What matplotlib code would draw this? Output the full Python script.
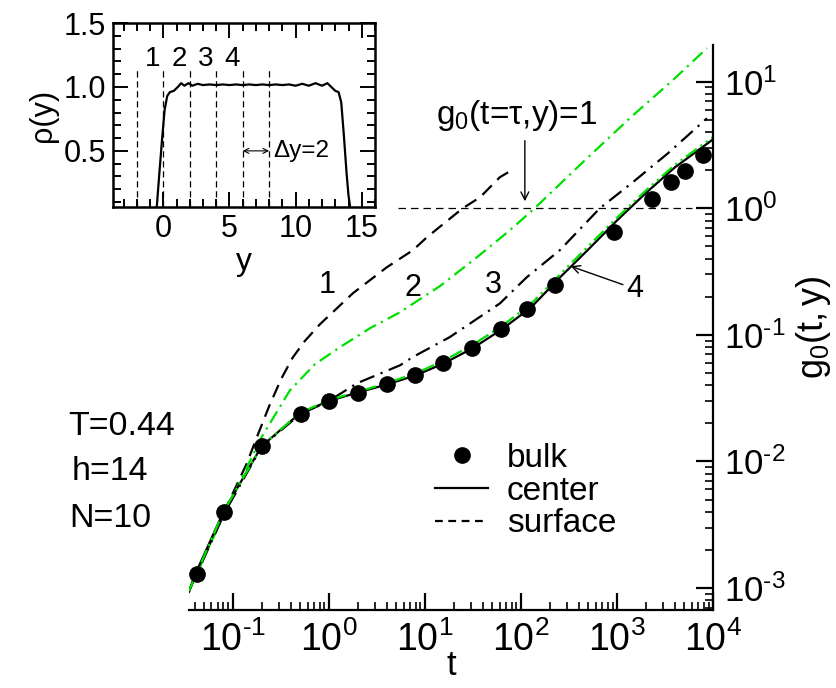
import matplotlib
matplotlib.use("Agg")
import matplotlib.pyplot as plt
from matplotlib.lines import Line2D
from matplotlib.ticker import LogLocator, NullFormatter, MultipleLocator, FormatStrFormatter, FuncFormatter
import numpy as np

plt.rcParams['font.family'] = ['Liberation Sans', 'DejaVu Sans']
plt.rcParams['mathtext.fontset'] = 'custom'
plt.rcParams['mathtext.rm'] = 'Liberation Sans'
plt.rcParams['mathtext.it'] = 'Liberation Sans:italic'
plt.rcParams['mathtext.bf'] = 'Liberation Sans:bold'
plt.rcParams['mathtext.default'] = 'regular'

GREEN = '#00e000'

# bulk simulation points
bulk_t = [0.042, 0.081, 0.20, 0.51, 1.0, 2.0, 4.0, 7.9, 15.5, 31, 62, 115, 226, 940, 2330, 3700, 5100, 7800]
bulk_g = [1.29e-3, 3.97e-3, 0.0132, 0.0238, 0.030, 0.0349, 0.0406, 0.0479, 0.0598, 0.0787, 0.1105,
          0.159, 0.249, 0.650, 1.18, 1.60, 1.96, 2.62]

# center of the film (solid)
center_t = [0.035, 0.04, 0.08, 0.2, 0.5, 1, 2, 4, 8, 16, 32, 64, 128, 256, 500, 1000, 2000, 4000, 10000]
center_g = [9.3e-4, 1.25e-3, 4.0e-3, 0.0132, 0.0240, 0.0300, 0.0350, 0.0405, 0.0478, 0.0598, 0.0790,
            0.111, 0.165, 0.285, 0.47, 0.80, 1.32, 2.1, 3.5]

# layer 1 (surface, dashed)
l1_t = [0.035, 0.0826, 0.140, 0.178, 0.24, 0.32, 0.42, 0.56, 0.806, 1.78, 4.02, 7.5, 10.5, 24.8,
        37.5, 60.4, 76.8]
l1_g = [9.5e-4, 4.10e-3, 9.64e-3, 0.0155, 0.0275, 0.045, 0.066, 0.089, 0.121, 0.213, 0.342, 0.466,
        0.590, 1.0, 1.22, 1.76, 1.96]

# layer 2 (green dash-dot)
l2_t = [0.035, 0.0826, 0.2, 0.393, 0.715, 1.30, 2.67, 5.50, 14.3, 34.8, 76.8, 139, 487, 1470, 3830, 8660]
l2_g = [9.5e-4, 3.95e-3, 0.0156, 0.0364, 0.0585, 0.0797, 0.1126, 0.1507, 0.242, 0.41, 0.67, 1.0,
        2.48, 5.43, 10.3, 18.4]

# layer 3 (black dash-dot)
l3_t = [0.035, 0.0826, 0.2, 0.5, 1.0, 1.96, 5.5, 7.5, 18.2, 60.4, 115, 254, 664, 1470, 3400, 8660]
l3_g = [9.5e-4, 3.95e-3, 0.0131, 0.0235, 0.030, 0.0414, 0.0574, 0.0668, 0.096, 0.177, 0.285, 0.466,
        1.0, 1.61, 2.72, 5.14]

# layer 4 (green dash-dot-dot)
l4_t = [0.035, 0.08, 0.2, 0.5, 1, 2, 4, 8, 16, 32, 64, 128, 256, 500, 1000, 2000, 4000, 10000]
l4_g = [9.5e-4, 4.0e-3, 0.0132, 0.0242, 0.0305, 0.0355, 0.0415, 0.0495, 0.063, 0.084, 0.118, 0.176,
        0.30, 0.50, 0.84, 1.38, 2.2, 3.65]

# g0 = 1 reference line
ref_t = [5.2, 6000]
ref_g = [1, 1]

layer_names = ['1', '2', '3', '4']
label_t = [0.95, 7.55, 51.5]
label_g = [0.246, 0.235, 0.246]

# inset: density profile
rho_y = [-0.5, -0.3, -0.1, 0.1, 0.3, 0.5, 0.8, 1.1, 1.35, 1.6, 1.9, 2.2, 2.6, 3.0, 3.5, 4.0, 4.5, 5.0,
         5.5, 6.0, 6.5, 7.0, 7.5, 8.0, 8.5, 9.0, 9.5, 10.0, 10.5, 11.0, 11.5, 12.0, 12.4, 12.7, 13.0,
         13.25, 13.45, 13.65, 13.85, 14.0, 14.15]
rho = [0.05, 0.32, 0.58, 0.82, 0.93, 0.96, 0.97, 1.0, 1.03, 1.01, 1.03, 1.01, 1.025, 1.015, 1.02, 1.015,
       1.02, 1.015, 1.02, 1.015, 1.02, 1.015, 1.02, 1.015, 1.02, 1.015, 1.02, 1.01, 1.025, 1.01, 1.03,
       1.01, 1.03, 1.0, 0.97, 0.96, 0.88, 0.62, 0.33, 0.15, 0.04]
layer_edges = [-2, 0, 2, 4, 6, 8]


def pow10(v, pos):
    e = int(round(np.log10(v)))
    return '$10^{%s}$' % str(e).replace('-', '\u2010')


fig = plt.figure(figsize=(8.37, 6.88), dpi=100)
ax = fig.add_axes([0.2258, 0.1134, 0.626, 0.8212])

ax.plot(l1_t, l1_g, color='k', lw=1.6, dashes=(6, 3.5))
ax.plot(l2_t, l2_g, color=GREEN, lw=1.6, dashes=(6, 2.5, 1, 2.5))
ax.plot(l3_t, l3_g, color='k', lw=1.6, dashes=(7, 3, 1, 3))
ax.plot(center_t, center_g, color='k', lw=1.6)
ax.plot(l4_t, l4_g, color=GREEN, lw=1.6, dashes=(6, 2, 1, 2, 1, 2))
ax.plot(bulk_t, bulk_g, 'o', color='k', ms=11, zorder=3)
ax.plot(ref_t, ref_g, color='k', lw=0.9, dashes=(6, 4))

ax.set_xscale('log')
ax.set_yscale('log')
ax.set_xlim(0.035, 1e4)
ax.set_ylim(6.7e-4, 19.5)

for s in ['left', 'top']:
    ax.spines[s].set_visible(False)
for s in ['right', 'bottom']:
    ax.spines[s].set_linewidth(1.6)
ax.yaxis.tick_right()
ax.yaxis.set_label_position('right')
ax.xaxis.set_major_locator(LogLocator(base=10, numticks=20))
ax.xaxis.set_minor_locator(LogLocator(base=10, subs=range(2, 10), numticks=20))
ax.yaxis.set_major_locator(LogLocator(base=10, numticks=20))
ax.yaxis.set_minor_locator(LogLocator(base=10, subs=range(2, 10), numticks=20))
ax.xaxis.set_major_formatter(FuncFormatter(pow10))
ax.yaxis.set_major_formatter(FuncFormatter(pow10))
ax.xaxis.set_minor_formatter(NullFormatter())
ax.yaxis.set_minor_formatter(NullFormatter())
ax.tick_params(axis='x', which='major', direction='in', length=12, width=1.6, labelsize=27, pad=8)
ax.tick_params(axis='x', which='minor', direction='in', length=6, width=1.2)
ax.tick_params(axis='y', which='major', direction='in', length=12, width=1.6, labelsize=25, pad=8)
ax.tick_params(axis='y', which='minor', direction='in', length=6, width=1.2)
ax.set_xlabel('t', fontsize=25, labelpad=-7)
ax.set_ylabel('$g_0(t,y)$', fontsize=26, rotation=90, labelpad=6)

for name, tx, gy in zip(layer_names, label_t, label_g):
    ax.text(tx, gy, name, fontsize=22, ha='center', va='center')
ax.text(1530, 0.229, layer_names[3], fontsize=22, ha='center', va='center')
ax.annotate('', xy=(311, 0.354), xytext=(1230, 0.245),
            arrowprops=dict(arrowstyle='->', lw=1, color='k', mutation_scale=14))

ax.text(91, 3.9, r'g$_0$(t=τ,y)=1', fontsize=24, ha='center', va='bottom')
ax.annotate('', xy=(110, 1.08), xytext=(110, 3.6),
            arrowprops=dict(arrowstyle='->', lw=1, color='k', mutation_scale=14))

handles = [Line2D([], [], color='k', marker='o', ls='none', ms=11),
           Line2D([], [], color='k', lw=1.6),
           Line2D([], [], color='k', lw=1.6, dashes=(3.5, 2.5))]
ax.legend(handles, ['bulk', 'center', 'surface'], loc='upper left', frameon=False,
          bbox_to_anchor=(435 / 837, 1 - 443 / 688), bbox_transform=fig.transFigure,
          fontsize=24, borderpad=0, borderaxespad=0, handlelength=1.6, handletextpad=0.55,
          labelspacing=0.05)

fig.text(0.081, 0.380, 'T=0.44', fontsize=24.5, ha='left', va='center')
fig.text(0.085, 0.3144, 'h=14', fontsize=24.5, ha='left', va='center')
fig.text(0.083, 0.2466, 'N=10', fontsize=24.5, ha='left', va='center')

# inset
axi = fig.add_axes([0.135, 0.699, 0.313, 0.2674])
axi.plot(rho_y, rho, color='k', lw=1.6)
axi.vlines(layer_edges, 0.06, 1.14, colors='k', linestyles=(0, (5, 3)), lw=0.9)
for i, name in enumerate(layer_names):
    axi.text((layer_edges[i] + layer_edges[i + 1]) / 2 + 0.2, 1.22, name, fontsize=20,
             ha='center', va='center')
axi.annotate('', xy=(layer_edges[4], 0.5), xytext=(layer_edges[5], 0.5),
             arrowprops=dict(arrowstyle='<->', lw=0.8, color='k', mutation_scale=9,
                             shrinkA=0, shrinkB=0))
axi.text(layer_edges[5] + 0.3, 0.5, 'Δy=2', fontsize=17.5, ha='left', va='center')
axi.set_xlim(-3.8, 16)
axi.set_ylim(0.06, 1.5)
axi.xaxis.set_major_locator(MultipleLocator(5))
axi.xaxis.set_minor_locator(MultipleLocator(1))
axi.yaxis.set_major_locator(MultipleLocator(0.5))
axi.yaxis.set_minor_locator(MultipleLocator(0.1))
axi.yaxis.set_major_formatter(FormatStrFormatter('%.1f'))
axi.tick_params(which='both', direction='in', top=True, right=True, width=1.4)
axi.tick_params(which='major', length=11, labelsize=22, pad=5)
axi.tick_params(which='minor', length=5.5)
for s in axi.spines.values():
    s.set_linewidth(1.8)
axi.set_xlabel('y', fontsize=23, labelpad=2)
axi.set_ylabel('ρ(y)', fontsize=22, labelpad=4)

fig.savefig('out.png', dpi=100)
